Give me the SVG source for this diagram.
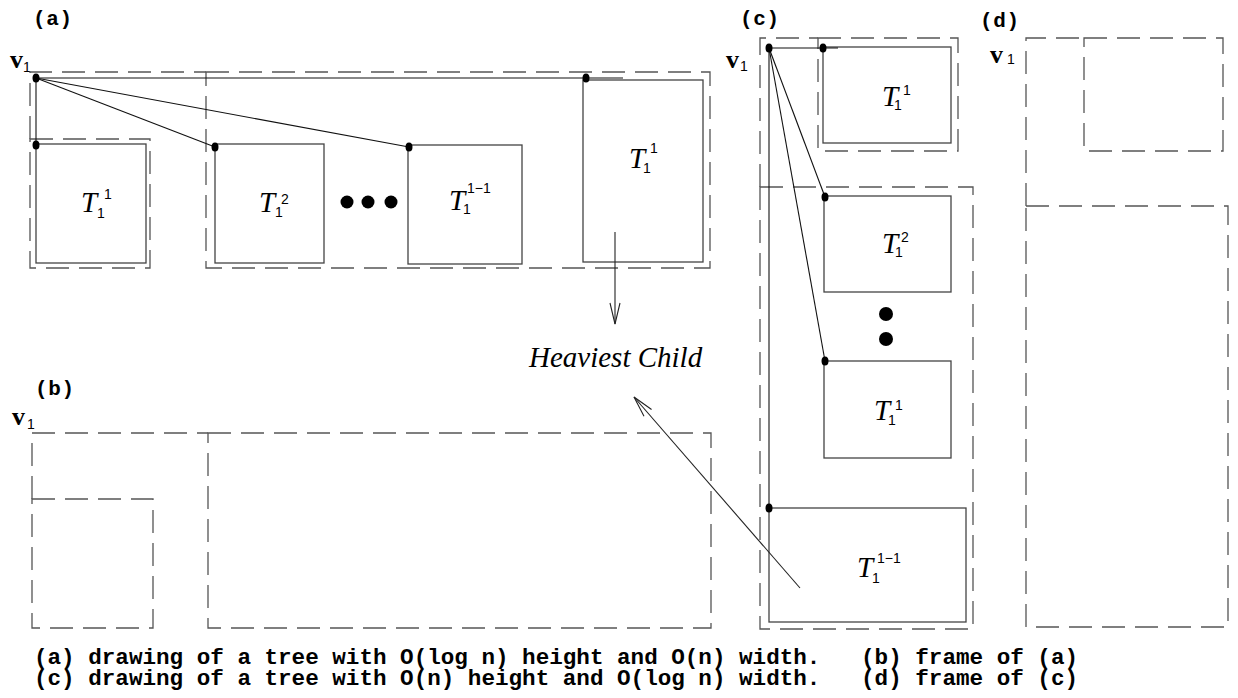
<svg xmlns="http://www.w3.org/2000/svg" width="1238" height="698" viewBox="0 0 1238 698">
<style>
.dash{fill:none;stroke:#555;stroke-width:1.3;stroke-dasharray:23 10}
.box{fill:none;stroke:#444;stroke-width:1.3}
.edge{fill:none;stroke:#111;stroke-width:1.1}
.arr{fill:none;stroke:#222;stroke-width:1.1}
.dot{fill:#000}
.lbl{font-family:"Liberation Mono",monospace;font-weight:bold;font-size:21px;letter-spacing:0.7px}
.cap{font-family:"Liberation Mono",monospace;font-weight:bold;font-size:22.6px}
.T{font-family:"Liberation Serif",serif;font-style:italic;font-size:29px}
.ix{font-family:"Liberation Sans",sans-serif;font-size:14px}
.v{font-family:"Liberation Serif",serif;font-weight:bold;font-size:26px}
.hv{font-family:"Liberation Serif",serif;font-style:italic;font-size:29px}
</style>
<defs>
<marker id="open" markerWidth="24" markerHeight="12" viewBox="-22 -6 24 12" refX="0" refY="0" orient="auto" markerUnits="userSpaceOnUse">
<path d="M-21,-5 L0,0 L-21,5" fill="none" stroke="#222" stroke-width="1.1"/>
</marker>
</defs>
<rect width="1238" height="698" fill="#fff"/>

<!-- Panel (a) -->
<g id="panel-a">
<text class="lbl" x="33" y="25">(a)</text>
<g id="a-v1"><text class="v" x="10" y="68">v</text><text class="ix" x="23" y="72">1</text></g>
<g id="a-frame"><path class="dash" d="M30,139 V72 H206"/></g>
<g id="a-t1-frame"><rect class="dash" x="30" y="139" width="120" height="129"/></g>
<g id="a-rest-frame"><rect class="dash" x="206" y="72" width="504" height="196"/></g>
<g id="a-T1-1"><rect class="box" x="36" y="144" width="110" height="119"/>
<text class="T" x="81" y="212">T</text><text class="ix" x="97" y="218">1</text><text class="ix" x="104" y="199">1</text></g>
<g id="a-T1-2"><rect class="box" x="215" y="144" width="109" height="119"/>
<text class="T" x="259" y="212">T</text><text class="ix" x="275" y="217">1</text><text class="ix" x="281" y="204" font-size="12">2</text></g>
<g id="a-dots"><circle class="dot" cx="347" cy="202" r="6.5"/><circle class="dot" cx="368" cy="202" r="6.5"/><circle class="dot" cx="391" cy="202" r="6.5"/></g>
<g id="a-T1-lm1"><rect class="box" x="408" y="145" width="114" height="119"/>
<text class="T" x="449" y="210">T</text><text class="ix" x="463" y="214">1</text><text class="ix" x="467" y="193">1−1</text></g>
<g id="a-T1-l"><rect class="box" x="583" y="80" width="120" height="182"/>
<text class="T" x="629" y="168">T</text><text class="ix" x="643" y="173">1</text><text class="ix" x="650" y="153">1</text></g>
</g>

<!-- Panel (b) -->
<g id="panel-b">
<text class="lbl" x="35" y="395">(b)</text>
<g id="b-v1"><text class="v" x="12" y="425">v</text><text class="ix" x="27" y="429">1</text></g>
<g id="b-frame"><path class="dash" d="M32,499 V433 H208"/></g>
<g id="b-t1-frame"><rect class="dash" x="32" y="499" width="121" height="129"/></g>
<g id="b-rest-frame"><rect class="dash" x="208" y="433" width="503" height="195"/></g>
</g>

<!-- Panel (c) -->
<g id="panel-c">
<text class="lbl" x="740" y="25">(c)</text>
<g id="c-v1"><text class="v" x="726" y="68">v</text><text class="ix" x="740" y="71">1</text></g>
<g id="c-frame"><path class="dash" d="M760,187 V38 H818"/></g>
<g id="c-t1-frame"><rect class="dash" x="818" y="38" width="140" height="113"/></g>
<g id="c-rest-frame"><rect class="dash" x="760" y="187" width="213" height="442"/></g>
<g id="c-T1-1"><rect class="box" x="823" y="47" width="128" height="96"/>
<text class="T" x="882" y="106">T</text><text class="ix" x="894" y="110">1</text><text class="ix" x="903" y="95">1</text></g>
<g id="c-T1-2"><rect class="box" x="824" y="196" width="127" height="96"/>
<text class="T" x="882" y="253">T</text><text class="ix" x="895" y="257">1</text><text class="ix" x="901" y="242" font-size="12">2</text></g>
<g id="c-dots"><circle class="dot" cx="886" cy="314" r="7"/><circle class="dot" cx="886" cy="339" r="7"/></g>
<g id="c-T1-l"><rect class="box" x="824" y="361" width="127" height="97"/>
<text class="T" x="874" y="420">T</text><text class="ix" x="888" y="425">1</text><text class="ix" x="895" y="410">1</text></g>
<g id="c-T1-lm1"><rect class="box" x="769" y="508" width="197" height="114"/>
<text class="T" x="857" y="577">T</text><text class="ix" x="872" y="583">1</text><text class="ix" x="877" y="563">1−1</text></g>
</g>

<!-- Panel (d) -->
<g id="panel-d">
<text class="lbl" x="980" y="27">(d)</text>
<g id="d-v1"><text class="v" x="990" y="63">v</text><text class="ix" x="1007" y="64">1</text></g>
<g id="d-frame"><path class="dash" d="M1026,206 V38 H1084"/></g>
<g id="d-t1-frame"><rect class="dash" x="1084" y="38" width="139" height="113"/></g>
<g id="d-rest-frame"><rect class="dash" x="1026" y="206" width="202" height="421"/></g>
</g>

<g id="heaviest-label"><text class="hv" x="529" y="367">Heaviest Child</text></g>

<!-- Connectors -->
<g id="connectors">
<path class="edge" d="M36,78 H623"/>
<path class="edge" d="M36,78 V145"/>
<path class="edge" d="M36,78 L215,147"/>
<path class="edge" d="M36,78 L409,147"/>
<path class="edge" d="M769,48 H838"/>
<path class="edge" d="M769,48 V508"/>
<path class="edge" d="M769,48 L825,197"/>
<path class="edge" d="M769,48 L825,361"/>
<path class="arr" d="M615,232 V324" marker-end="url(#open)"/>
<path class="arr" d="M800,588 L634,397" marker-end="url(#open)"/>
</g>

<g id="node-dots">
<ellipse class="dot" cx="36" cy="78" rx="3.5" ry="4.5"/>
<ellipse class="dot" cx="36" cy="145" rx="3.5" ry="4.5"/>
<ellipse class="dot" cx="215" cy="147" rx="3.5" ry="4.5"/>
<ellipse class="dot" cx="409" cy="147" rx="3.5" ry="4.5"/>
<ellipse class="dot" cx="586" cy="78" rx="3.5" ry="4.5"/>
<ellipse class="dot" cx="769" cy="48" rx="3.5" ry="4.5"/>
<ellipse class="dot" cx="823" cy="48" rx="3.5" ry="4.5"/>
<ellipse class="dot" cx="825" cy="197" rx="3.5" ry="4.5"/>
<ellipse class="dot" cx="825" cy="361" rx="3.5" ry="4.5"/>
<ellipse class="dot" cx="769" cy="508" rx="3.5" ry="4.5"/>
</g>

<g id="caption">
<text class="cap" x="34" y="664" xml:space="preserve">(a) drawing of a tree with O(log n) height and O(n) width.   (b) frame of (a)</text>
<text class="cap" x="34" y="685" xml:space="preserve">(c) drawing of a tree with O(n) height and O(log n) width.   (d) frame of (c)</text>
</g>
</svg>
